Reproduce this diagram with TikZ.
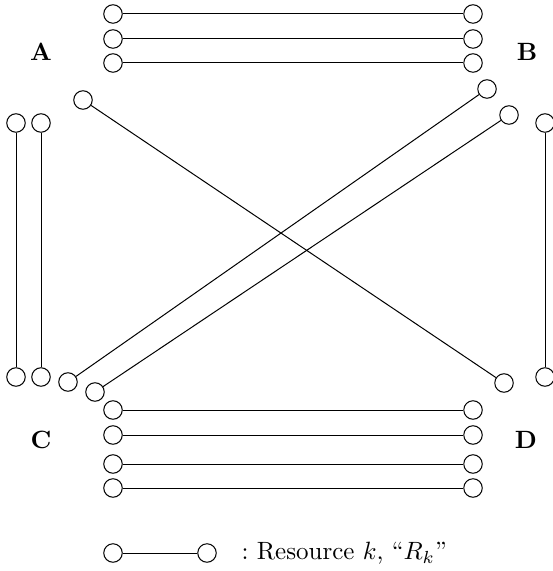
\documentclass[tikz,border=0pt]{standalone}
\begin{document}
\begin{tikzpicture}[x=0.4pt,y=-0.4pt,
  res/.style={circle,draw,line width=0.4pt,minimum size=7.4pt,inner sep=0pt},
  link/.style={line width=0.4pt},
  lbl/.style={font=\bfseries,inner sep=0pt}]
\useasboundingbox (0,0) rectangle (552,571);
% top (A-B)
\foreach \i/\y in {1/14,2/39,3/63}{
  \node[res] (tl\i) at (113,\y) {};
  \node[res] (tr\i) at (473,\y) {};
  \draw[link] (tl\i) -- (tr\i);
}
% bottom (C-D)
\foreach \i/\y in {1/410,2/435,3/464,4/488}{
  \node[res] (bl\i) at (113,\y) {};
  \node[res] (br\i) at (473,\y) {};
  \draw[link] (bl\i) -- (br\i);
}
% left verticals (A-C)
\foreach \i/\x in {1/16,2/41}{
  \node[res] (lt\i) at (\x,123) {};
  \node[res] (lb\i) at (\x,377) {};
  \draw[link] (lt\i) -- (lb\i);
}
% right vertical (B-D)
\node[res] (rt) at (545,123) {};
\node[res] (rb) at (545,377) {};
\draw[link] (rt) -- (rb);
% A-D diagonal
\node[res] (ad1) at (83,100) {};
\node[res] (ad2) at (504,383) {};
\draw[link] (ad1) -- (ad2);
% B-C diagonals
\node[res] (bc1) at (487,89) {};
\node[res] (cb1) at (68,382) {};
\draw[link] (bc1) -- (cb1);
\node[res] (bc2) at (509,115) {};
\node[res] (cb2) at (95,392) {};
\draw[link] (bc2) -- (cb2);
% labels
\node[lbl] (A) at (41,52) {A};
\node[lbl] (B) at (527,52) {B};
\node[lbl] (C) at (41,440) {C};
\node[lbl] (D) at (526,440) {D};
% legend
\node[res] (lg1) at (113,553) {};
\node[res] (lg2) at (207,553) {};
\draw[link] (lg1) -- (lg2);
\node[anchor=west,inner sep=0pt] (lgt) at (241,553) {:\ Resource $k$, ``$R_k$''};
\end{tikzpicture}
\end{document}
